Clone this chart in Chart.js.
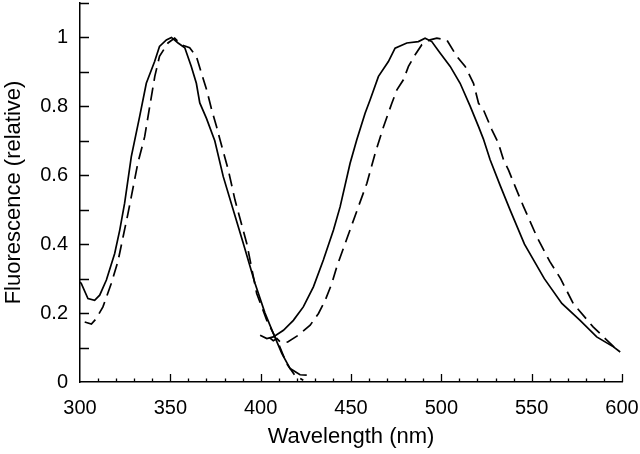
<!DOCTYPE html>
<html>
<head>
<meta charset="utf-8">
<script src="https://cdn.jsdelivr.net/npm/chart.js@4"></script>
<style>
html,body{margin:0;padding:0;background:#fff;}
#wrap{width:640px;height:454px;}
</style>
</head>
<body>
<div id="wrap"><canvas id="c" width="640" height="454"></canvas></div>
<script>
// Tick labels
const xTickValues = [300, 350, 400, 450, 500, 550, 600];
const yTickValues = [0, 0.2, 0.4, 0.6, 0.8, 1];
const yTickLabels = ["0", "0.2", "0.4", "0.6", "0.8", "1"];

// Excitation, solid
const exSolidX = [300, 300.7, 304.4, 308.1, 310.9, 314.6, 319.2, 322, 324.7, 328.4, 333, 336.7, 341.3, 344, 347.8, 350.6, 354.3, 358, 361.6, 364.4, 366.3, 370, 374.6, 379.3, 384, 390.4, 396.9, 402.4, 407, 411.7, 416.3, 421.8, 425.5];
const exSolidY = [0.29, 0.286, 0.242, 0.237, 0.252, 0.296, 0.373, 0.441, 0.519, 0.654, 0.77, 0.867, 0.93, 0.974, 0.993, 1.0, 0.984, 0.97, 0.916, 0.867, 0.81, 0.765, 0.70, 0.596, 0.514, 0.402, 0.286, 0.20, 0.141, 0.083, 0.039, 0.021, 0.02];

// Excitation, dashed
const exDashX = [302.6, 306.3, 309, 312.7, 317.3, 321, 323.8, 326.6, 328.4, 332, 335.8, 338.6, 341.4, 344, 348.7, 352.4, 356, 360.7, 364.4, 367.2, 370, 372.9, 375.6, 377.5, 382.1, 385.8, 392.3, 397.8, 403.4, 409.8, 414.4, 419, 423.6];
const exDashY = [0.174, 0.168, 0.184, 0.218, 0.286, 0.35, 0.42, 0.49, 0.538, 0.635, 0.712, 0.80, 0.887, 0.945, 0.984, 0.998, 0.979, 0.97, 0.945, 0.897, 0.85, 0.79, 0.741, 0.703, 0.615, 0.528, 0.402, 0.257, 0.179, 0.112, 0.053, 0.019, 0.005];

// Emission, solid
const emSolidX = [399.7, 403.4, 407, 412.6, 418.1, 423.6, 429.2, 434.7, 440.3, 444, 449.5, 453.2, 457.8, 460.6, 465.2, 470.7, 474.4, 480.9, 487.3, 491, 494.7, 499.3, 504.9, 510.4, 516, 520.6, 523.3, 527, 532.6, 538.1, 546, 557, 566.7, 576.8, 586, 595.3, 599];
const emSolidY = [0.136, 0.126, 0.131, 0.15, 0.179, 0.218, 0.276, 0.354, 0.441, 0.509, 0.635, 0.703, 0.78, 0.819, 0.887, 0.93, 0.969, 0.984, 0.988, 0.998, 0.988, 0.955, 0.916, 0.867, 0.80, 0.741, 0.705, 0.645, 0.57, 0.499, 0.40, 0.30, 0.228, 0.179, 0.131, 0.102, 0.087];

// Emission, dashed
const emDashX = [405, 407, 409, 411, 415, 420.9, 427.4, 432, 435.7, 439.4, 442.1, 448, 454.1, 458.8, 463.4, 468, 472.6, 475.4, 479, 481.8, 485.5, 489.2, 493.8, 497.5, 503, 508.6, 513.2, 517.8, 520.6, 523.3, 528, 531.6, 534.4, 537.2, 540.9, 545.5, 553, 560, 566, 573, 584, 593.5, 598];
const emDashY = [0.128, 0.12, 0.126, 0.115, 0.116, 0.136, 0.165, 0.199, 0.237, 0.286, 0.334, 0.42, 0.509, 0.577, 0.664, 0.741, 0.809, 0.848, 0.877, 0.916, 0.95, 0.979, 0.993, 0.998, 0.993, 0.945, 0.916, 0.867, 0.809, 0.79, 0.732, 0.693, 0.645, 0.615, 0.567, 0.509, 0.42, 0.35, 0.30, 0.228, 0.16, 0.112, 0.09];

const pts = (xs, ys) => xs.map((x, i) => ({x: x, y: ys[i]}));

const tickMarks = {
  id: 'tickMarks',
  afterDatasetsDraw(chart) {
    const ctx = chart.ctx, xs = chart.scales.x, ys = chart.scales.y;
    const x0 = xs.getPixelForValue(300), y0 = ys.getPixelForValue(0);
    ctx.save();
    ctx.strokeStyle = '#000';
    ctx.lineWidth = 1.3;
    ctx.beginPath();
    for (let v = 310; v <= 600; v += 10) {
      const px = Math.round(xs.getPixelForValue(v)) + 0.5;
      const len = (v % 50 === 0) ? 8 : 3.5;
      ctx.moveTo(px, y0);
      ctx.lineTo(px, y0 - len);
    }
    for (let k = 1; k <= 11; k++) {
      const py = Math.round(ys.getPixelForValue(k / 10)) + 0.5;
      ctx.moveTo(x0, py);
      ctx.lineTo(x0 + 9, py);
    }
    ctx.stroke();
    ctx.restore();
  }
};

const lineStyle = {showLine: true, pointRadius: 0, borderColor: '#000', borderWidth: 1.7, fill: false, tension: 0};
const fam = 'Liberation Sans, Arial, sans-serif';

new Chart(document.getElementById('c'), {
  type: 'scatter',
  data: {
    datasets: [
      Object.assign({label: 'ex1', data: pts(exSolidX, exSolidY)}, lineStyle),
      Object.assign({label: 'ex2', data: pts(exDashX, exDashY), borderDash: [13, 7]}, lineStyle),
      Object.assign({label: 'em1', data: pts(emSolidX, emSolidY)}, lineStyle),
      Object.assign({label: 'em2', data: pts(emDashX, emDashY), borderDash: [13, 7]}, lineStyle)
    ]
  },
  options: {
    responsive: false,
    animation: false,
    events: [],
    layout: {padding: {top: 3, right: 18, bottom: 0, left: 0}},
    plugins: {legend: {display: false}, tooltip: {enabled: false}},
    scales: {
      x: {
        type: 'linear', min: 300, max: 600,
        afterBuildTicks: s => { s.ticks = xTickValues.map(v => ({value: v})); },
        afterFit: s => { s.height = 72; s.paddingLeft = 0; s.paddingRight = 0; },
        grid: {display: false, drawTicks: false},
        border: {display: true, color: '#000', width: 1.5},
        ticks: {color: '#000', padding: 14, maxRotation: 0, font: {family: fam, size: 20}},
        title: {display: true, text: 'Wavelength (nm)', color: '#000', padding: {top: 0, bottom: 4}, font: {family: fam, size: 22}}
      },
      y: {
        type: 'linear', min: 0, max: 1.1,
        afterBuildTicks: s => { s.ticks = yTickValues.map(v => ({value: v})); },
        afterFit: s => { s.width = 80; s.paddingTop = 0; s.paddingBottom = 0; },
        grid: {display: false, drawTicks: false},
        border: {display: true, color: '#000', width: 1.5},
        ticks: {color: '#000', padding: 12, callback: (v, i) => yTickLabels[i], font: {family: fam, size: 20}},
        title: {display: true, text: 'Fluorescence (relative)', color: '#000', padding: {top: 1, bottom: 0}, font: {family: fam, size: 22}}
      }
    }
  },
  plugins: [tickMarks]
});
</script>
</body>
</html>
